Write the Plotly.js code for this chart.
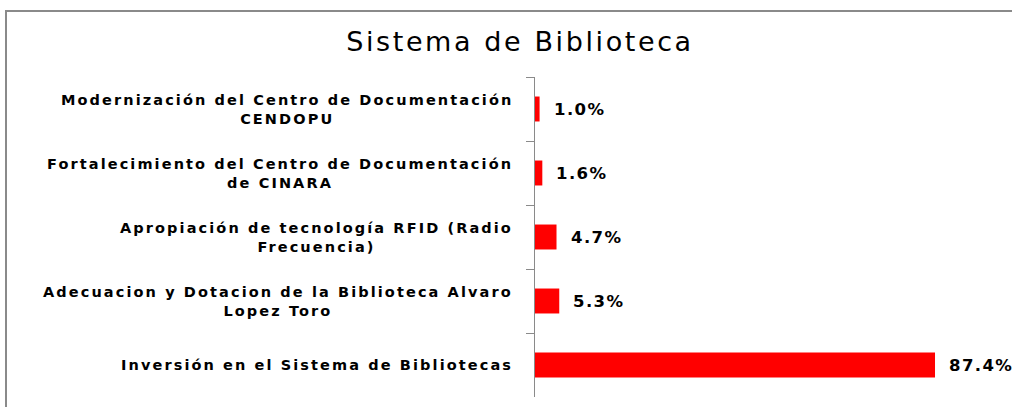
<!DOCTYPE html>
<html>
<head>
<meta charset="utf-8">
<script src="https://cdn.plot.ly/plotly-3.0.1.min.js"></script>
<style>
  html, body { margin: 0; padding: 0; background: #ffffff; overflow: hidden; }
  #frame { position: absolute; left: 5px; top: 10px; width: 1100px; height: 500px; border: 2px solid #8a8a8a; box-sizing: border-box; }
  #chart { position: absolute; left: 0; top: 0; width: 1012px; height: 407px; }
  .annotation-text { letter-spacing: 2.1px; }
  .gtitle { letter-spacing: 2.6px; }
</style>
</head>
<body>
<div id="frame"></div>
<div id="chart"></div>
<script>
// Data (top to bottom as displayed)
var categories = [
  "Modernización del Centro de Documentación<br>CENDOPU",
  "Fortalecimiento del Centro de Documentación<br>de CINARA",
  "Apropiación de tecnología RFID (Radio<br>Frecuencia)",
  "Adecuacion y Dotacion de la Biblioteca Alvaro<br>Lopez Toro",
  "Inversión en el Sistema de Bibliotecas"
];
var values = [1.0, 1.6, 4.7, 5.3, 87.4];
var valueLabels = ["1.0%", "1.6%", "4.7%", "5.3%", "87.4%"];
var chartTitle = "Sistema de Biblioteca";

var trace = {
  type: "bar",
  orientation: "h",
  x: values,
  y: categories,
  width: 0.39,
  marker: { color: "#ff0000" },
  hoverinfo: "none"
};

var annotations = [];
for (var i = 0; i < categories.length; i++) {
  annotations.push({
    xref: "paper", yref: "y",
    x: 0, y: categories[i],
    xanchor: "right", yanchor: "middle",
    xshift: -20,
    align: "center",
    showarrow: false,
    text: categories[i],
    font: { family: "DejaVu Sans", size: 14.5, color: "#000000", weight: "bold" }
  });
  annotations.push({
    xref: "x", yref: "y",
    x: values[i], y: categories[i],
    xanchor: "left", yanchor: "middle",
    xshift: 12,
    showarrow: false,
    text: '<span style="letter-spacing:1.4px">' + valueLabels[i] + '</span>',
    font: { family: "DejaVu Sans", size: 16.5, color: "#000000", weight: "bold" }
  });
}

var layout = {
  width: 1012,
  height: 407,
  margin: { l: 535, r: 12, t: 77, b: 10 },
  paper_bgcolor: "rgba(0,0,0,0)",
  plot_bgcolor: "rgba(0,0,0,0)",
  showlegend: false,
  title: {
    text: chartTitle,
    x: 520 / 1012, xref: "container", xanchor: "center",
    y: 1 - 42 / 407, yref: "container", yanchor: "middle",
    font: { family: "DejaVu Sans", size: 27, color: "#000000" }
  },
  xaxis: {
    range: [0, 101.6],
    visible: false,
    showgrid: false,
    zeroline: false
  },
  yaxis: {
    type: "category",
    autorange: "reversed",
    showticklabels: false,
    showline: true,
    linecolor: "#8a8a8a",
    linewidth: 1.5,
    ticks: "outside",
    tickson: "boundaries",
    ticklen: 8,
    tickcolor: "#8a8a8a",
    tickwidth: 1,
    showgrid: false,
    zeroline: false
  },
  annotations: annotations
};

Plotly.newPlot("chart", [trace], layout, { displayModeBar: false, staticPlot: true });
</script>
</body>
</html>
